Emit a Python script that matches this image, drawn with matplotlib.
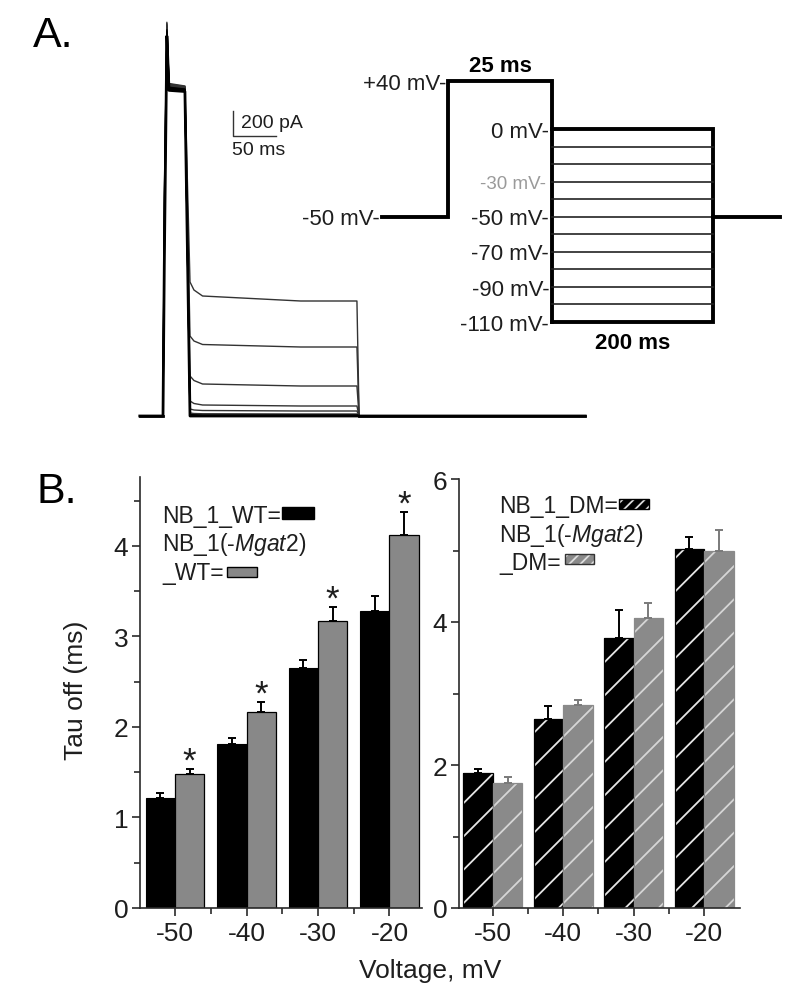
import numpy as np
import matplotlib
matplotlib.use('Agg')
import matplotlib.pyplot as plt
from matplotlib.patches import Rectangle

plt.rcParams['font.family'] = ['Liberation Sans', 'DejaVu Sans']
plt.rcParams['mathtext.fontset'] = 'custom'
plt.rcParams['mathtext.rm'] = 'Liberation Sans'
plt.rcParams['mathtext.it'] = 'Liberation Sans:italic'
plt.rcParams['mathtext.bf'] = 'Liberation Sans:bold'
plt.rcParams['hatch.linewidth'] = 1.3

# ------------------------------------------------------------------ data
# Panel A: current traces (time in ms, current in pA), key points read off
t_start, t_rise, t_peak, t_sag, t_pre_end = -27, 1.5, 4.5, 7.0, 25.5
t_knee, t_mid, t_early, t_late, t_test_end, t_back, t_stop = 31.4, 36, 46, 160, 225.5, 228, 491
peak_pA = [3150, 3140, 3130, 3120, 3110, 3100, 3090, 3080, 3070, 3060, 3050, 3040]
rise_pA = [1750, 1700, 1650, 1600, 1550, 1500, 1450, 1400, 1350, 1300, 1250, 1200]
sag_pA = [2660, 2655, 2650, 2645, 2640, 2635, 2630, 2625, 2620, 2615, 2610, 2605]
plateau_pA = [2640, 2636, 2632, 2628, 2624, 2620, 2616, 2612, 2608, 2604, 2600, 2596]
tail_knee = [1072, 640, 320, 120, 56, 24, 12, 8, 4, 0, 0, 0]
tail_mid = [1008, 600, 284, 100, 48, 20, 10, 6, 2, 0, 0, 0]
tail_early = [960, 572, 256, 88, 44, 18, 8, 4, 0, 0, 0, 0]
tail_late = [920, 552, 240, 80, 40, 16, 8, 4, 0, 0, 0, 0]
scale_pA, scale_ms = 200, 50

# Panel A: voltage protocol
hold_mv = -50
pre_mv = 40
pre_ms = 25
test_ms = 200
test_mv = [0, -10, -20, -30, -40, -50, -60, -70, -80, -90, -100, -110]
labelled_mv = [0, -30, -50, -70, -90, -110]

# Panel B
volts = ['-50', '-40', '-30', '-20']
wt_black = [1.22, 1.81, 2.65, 3.28]
wt_black_err = [0.05, 0.07, 0.09, 0.17]
wt_gray = [1.48, 2.16, 3.17, 4.12]
wt_gray_err = [0.05, 0.11, 0.15, 0.25]
wt_sig = [True, True, True, True]
dm_black = [1.89, 2.64, 3.77, 5.02]
dm_black_err = [0.05, 0.19, 0.40, 0.17]
dm_gray = [1.75, 2.84, 4.05, 4.99]
dm_gray_err = [0.08, 0.07, 0.22, 0.30]

# ------------------------------------------------------------------ figure
W, H = 800, 1003
fig = plt.figure(figsize=(W / 100, H / 100), dpi=100)
def fx(x): return x / W
def fy(y): return 1 - y / H

TXT = '#1e1e1e'
AX = '#2a2a2a'

# ---------------- Panel A traces
axA = fig.add_axes([fx(130), fy(430), 470 / W, 420 / H])
axA.set_xlim((130 - 163) / 0.86, (600 - 163) / 0.86)
axA.set_ylim((417 - 430) * 8, (417 - 10) * 8)
axA.axis('off')
n_tr = len(tail_late)
for k in range(n_tr):
    tt = [t_start, 0, t_rise, t_peak, t_sag, t_pre_end, t_knee, t_mid, t_early,
          t_late, t_test_end, t_back, t_stop]
    ii = [0, 0, rise_pA[k], peak_pA[k], sag_pA[k], plateau_pA[k], tail_knee[k],
          tail_mid[k], tail_early[k], tail_late[k], tail_late[k], 0, 0]
    lw = 1.0 if k < n_tr - 1 else 2.0
    axA.plot(tt, ii, color='#333333' if k < 6 else 'black', lw=lw,
             solid_joinstyle='round', clip_on=False)
axA.plot([t_start, 0], [0, 0], color='black', lw=2.0)
axA.plot([t_back, t_stop], [0, 0], color='black', lw=2.0)

# scale bar
sb_t, sb_i = 81, 2240
axA.plot([sb_t, sb_t, sb_t + scale_ms], [sb_i + scale_pA, sb_i, sb_i],
         color='#333333', lw=1.0)
axA.text(sb_t + 10, sb_i + scale_pA / 2 + 10, f'{scale_pA} pA', fontsize=14,
         color=TXT, ha='left', va='center')
axA.text(sb_t - 1, sb_i - 40, f'{scale_ms} ms', fontsize=14, color=TXT,
         ha='left', va='top')

fig.text(fx(33), fy(47), 'A.', fontsize=31, color='black', va='baseline')

# ---------------- Panel A protocol
def make_pw(xp, fp):
    xp = np.asarray(xp, float)
    fp = np.asarray(fp, float)
    s0 = (fp[1] - fp[0]) / (xp[1] - xp[0])
    s1 = (fp[-1] - fp[-2]) / (xp[-1] - xp[-2])
    def f(x):
        x = np.asarray(x, float)
        y = np.interp(x, xp, fp)
        y = np.where(x < xp[0], fp[0] + (x - xp[0]) * s0, y)
        y = np.where(x > xp[-1], fp[-1] + (x - xp[-1]) * s1, y)
        return y
    return f

hold_before, hold_after = 16, 83
t_br = [-hold_before, 0, pre_ms, pre_ms + test_ms, pre_ms + test_ms + hold_after]
px_br = [0, 66, 170, 331, 398]
v_br = [min(test_mv), 0, pre_mv]
py_br = [0, 193, 241]

axP = fig.add_axes([fx(382), fy(323), 398 / W, 241 / H])
axP.set_xscale('function', functions=(make_pw(t_br, px_br), make_pw(px_br, t_br)))
axP.set_yscale('function', functions=(make_pw(v_br, py_br), make_pw(py_br, v_br)))
axP.set_xlim(t_br[0], t_br[-1])
axP.set_ylim(min(test_mv), pre_mv)
axP.axis('off')

thick = dict(color='black', lw=2.8, clip_on=False, solid_capstyle='projecting',
             solid_joinstyle='miter')
thin = dict(color='#222222', lw=1.2, clip_on=False)
t_end = pre_ms + test_ms
axP.plot([t_br[0], 0, 0, pre_ms, pre_ms], [hold_mv, hold_mv, pre_mv, pre_mv, min(test_mv)], **thick)
axP.plot([pre_ms, t_end, t_end, pre_ms], [max(test_mv), max(test_mv), min(test_mv), min(test_mv)], **thick)
for v in test_mv[1:-1]:
    axP.plot([pre_ms, t_end], [v, v], **thin)
axP.plot([t_end, t_br[-1]], [hold_mv, hold_mv], **thick)

lab = dict(textcoords='offset points', ha='right', va='baseline', color=TXT)
axP.annotate('+40 mV-', xy=(0, pre_mv), xytext=(-1.5, -5.5), fontsize=16, **lab)
axP.annotate('-50 mV-', xy=(t_br[0], hold_mv), xytext=(-1.5, -5.5), fontsize=16, **lab)
for v in labelled_mv:
    if v == -30:
        axP.annotate(f'{v} mV-', xy=(pre_ms, v), xytext=(-4, -4.7), fontsize=13.5,
                     textcoords='offset points', ha='right', va='baseline',
                     color='#9a9a9a')
    else:
        axP.annotate(f'{v} mV-', xy=(pre_ms, v), xytext=(-2, -5.5), fontsize=16, **lab)
axP.annotate(f'{pre_ms} ms', xy=(pre_ms / 2, pre_mv), xytext=(0, 3.5),
             textcoords='offset points', ha='center', va='bottom',
             fontsize=16, fontweight='bold', color='black')
axP.annotate(f'{test_ms} ms', xy=(pre_ms + test_ms / 2, min(test_mv)), xytext=(0, -7),
             textcoords='offset points', ha='center', va='top',
             fontsize=16, fontweight='bold', color='black')

# ---------------- Panel B
x = np.arange(len(volts))

def style_axis(ax, ymax, major, minor, xmin, xmax):
    ax.set_xlim(xmin, xmax)
    ax.set_ylim(0, ymax)
    for s in ['top', 'right']:
        ax.spines[s].set_visible(False)
    for s in ['left', 'bottom']:
        ax.spines[s].set_color(AX)
        ax.spines[s].set_linewidth(1.2)
    ax.set_xticks(x)
    ax.set_xticklabels(volts)
    ax.set_xticks(x[:-1] + 0.5, minor=True)
    ax.set_yticks(major)
    ax.set_yticks(minor, minor=True)
    ax.tick_params(axis='both', which='major', direction='out', length=5.5,
                   width=1.2, color=AX, labelsize=19, labelcolor=TXT, pad=3)
    ax.tick_params(axis='both', which='minor', direction='out', length=4.5,
                   width=1.2, color=AX)
    ax.tick_params(axis='x', which='major', pad=4)

bw = 0.41
axL = fig.add_axes([fx(140), fy(909), 282 / W, 431 / H])
axL.bar(x - bw / 2, wt_black, bw, color='black', edgecolor='black', lw=0.8, zorder=2)
axL.bar(x + bw / 2, wt_gray, bw, color='#888888', edgecolor='black', lw=0.9, zorder=2)
axL.errorbar(x - bw / 2, wt_black, yerr=[np.zeros(len(x)), wt_black_err], fmt='none',
             ecolor='black', elinewidth=1.4, capsize=2.6, capthick=1.4, zorder=3)
axL.errorbar(x + bw / 2, wt_gray, yerr=[np.zeros(len(x)), wt_gray_err], fmt='none',
             ecolor='black', elinewidth=1.4, capsize=2.6, capthick=1.4, zorder=3)
for i in range(len(x)):
    if wt_sig[i]:
        axL.annotate('*', xy=(x[i] + bw / 2, wt_gray[i] + wt_gray_err[i]),
                     xytext=(0, -1), textcoords='offset points', ha='center',
                     va='baseline', fontsize=25, color=TXT)
style_axis(axL, 4.76, [0, 1, 2, 3, 4], [0.5, 1.5, 2.5, 3.5, 4.5], -0.49, 3.455)
axL.set_ylabel('Tau off (ms)', fontsize=19, color=TXT)
axL.yaxis.set_label_coords(-0.185, 0.508)

bw2 = 0.42
axR = fig.add_axes([fx(459), fy(909), 281 / W, 429 / H])
axR.bar(x - bw2 / 2, dm_black, bw2, facecolor='black', edgecolor='#e6e6e6',
        hatch='/', lw=0, zorder=2)
axR.bar(x - bw2 / 2, dm_black, bw2, fill=False, edgecolor='black', lw=0.9, zorder=2)
axR.bar(x + bw2 / 2, dm_gray, bw2, facecolor='#8a8a8a', edgecolor='#d6d6d6',
        hatch='/', lw=0, zorder=2)
axR.bar(x + bw2 / 2, dm_gray, bw2, fill=False, edgecolor='#8a8a8a', lw=0.9, zorder=2)
axR.errorbar(x - bw2 / 2, dm_black, yerr=[np.zeros(len(x)), dm_black_err], fmt='none',
             ecolor='black', elinewidth=1.4, capsize=2.6, capthick=1.4, zorder=3)
axR.errorbar(x + bw2 / 2, dm_gray, yerr=[np.zeros(len(x)), dm_gray_err], fmt='none',
             ecolor='#7a7a7a', elinewidth=1.4, capsize=2.6, capthick=1.4, zorder=3)
style_axis(axR, 6, [0, 2, 4, 6], [1, 3, 5], -0.48, 3.51)

fig.text(fx(430), fy(978), 'Voltage, mV', fontsize=19, color=TXT, ha='center',
         va='baseline')
fig.text(fx(36), fy(503), 'B.', fontsize=31, color='black', va='baseline')

# legends
leg_fs = 16.5
tL1 = fig.text(fx(162), fy(523), 'NB_1_WT=', fontsize=leg_fs, color=TXT, va='baseline')
fig.text(fx(162), fy(551), r'NB_1(-$\mathit{Mgat2}$)', fontsize=leg_fs, color=TXT, va='baseline')
tL3 = fig.text(fx(162), fy(580), '_WT=', fontsize=leg_fs, color=TXT, va='baseline')
tR1 = fig.text(fx(499), fy(513), 'NB_1_DM=', fontsize=leg_fs, color=TXT, va='baseline')
fig.text(fx(499), fy(542), r'NB_1(-$\mathit{Mgat2}$)', fontsize=leg_fs, color=TXT, va='baseline')
tR3 = fig.text(fx(499), fy(570), '_DM=', fontsize=leg_fs, color=TXT, va='baseline')

fig.canvas.draw()
def right_edge(t):
    return t.get_window_extent().x1 / W

def swatch(x0, ytop, w, h, fc, ec, hatch=None, hc=None):
    if hatch:
        fig.add_artist(Rectangle((x0, fy(ytop + h)), w / W, h / H, transform=fig.transFigure,
                                 facecolor=fc, edgecolor=hc, hatch=hatch, lw=0))
        fig.add_artist(Rectangle((x0, fy(ytop + h)), w / W, h / H, transform=fig.transFigure,
                                 fill=False, edgecolor=ec, lw=1.0))
    else:
        fig.add_artist(Rectangle((x0, fy(ytop + h)), w / W, h / H, transform=fig.transFigure,
                                 facecolor=fc, edgecolor=ec, lw=1.0))

swatch(right_edge(tL1) + 1 / W, 508, 32, 12, 'black', 'black')
swatch(right_edge(tL3) + 3 / W, 568, 30, 10, '#888888', 'black')
swatch(right_edge(tR1) + 1 / W, 500, 30, 10, 'black', 'black', hatch='///', hc='#dddddd')
swatch(right_edge(tR3) + 4 / W, 555, 29, 10, '#8a8a8a', '#333333', hatch='///', hc='#dddddd')

fig.savefig('out.png', dpi=100)
